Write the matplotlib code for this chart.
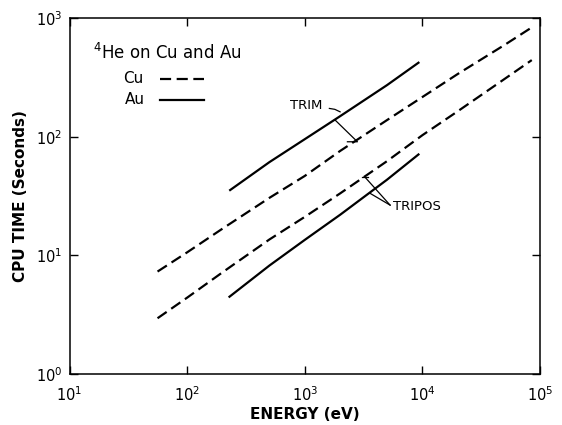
import matplotlib
matplotlib.use("Agg")
import matplotlib.pyplot as plt
from matplotlib.ticker import FixedFormatter, NullLocator

# values (energy in eV, CPU time in seconds)
cu_trim_e = [56, 100, 200, 500, 1000, 2000, 5000, 10000, 20000, 50000, 82400]
cu_trim_t = [7.3, 10.6, 16.8, 30.5, 46.7, 75.9, 138, 216, 338, 594, 817]

cu_tripos_e = [56, 100, 200, 500, 1000, 2000, 5000, 10000, 20000, 50000, 85000]
cu_tripos_t = [2.95, 4.4, 7.2, 13.6, 21.1, 33.3, 62.2, 103, 164, 307, 442]

au_trim_e = [232, 500, 1000, 2000, 5000, 9250]
au_trim_t = [35.5, 61, 95.3, 149, 272, 420]

au_tripos_e = [229, 500, 1000, 2000, 5000, 9250]
au_tripos_t = [4.48, 8.2, 13.5, 22.0, 43.4, 70.8]

x_ticks = [1e1, 1e2, 1e3, 1e4, 1e5]
x_ticklabels = [r"$10^{1}$", r"$10^{2}$", r"$10^{3}$", r"$10^{4}$", r"$10^{5}$"]
y_ticks = [1e0, 1e1, 1e2, 1e3]
y_ticklabels = [r"$10^{0}$", r"$10^{1}$", r"$10^{2}$", r"$10^{3}$"]

# label positions / leader lines (data coords)
trim_label = (750, 184.6)
trim_leader = [(1618, 173), (1800, 170), (1995, 162)]
trim_bracket = [(1811, 138), (2800, 90.6), (2303, 90.6)]
tripos_label = (5662, 25.7)
tripos_leader1 = [(5310, 26.5), (3260, 45.4)]
tripos_tick = [(3055, 45.4), (3475, 45.4)]
tripos_leader2 = [(5310, 26.5), (3590, 33.3)]

DASH = (5, 2.5)
LW = 1.6

fig = plt.figure(figsize=(5.62, 4.25), dpi=100)
ax = fig.add_axes([0.1237, 0.12, 0.8373, 0.8376])

ax.plot(cu_trim_e, cu_trim_t, color="black", lw=LW, dashes=DASH)
ax.plot(cu_tripos_e, cu_tripos_t, color="black", lw=LW, dashes=DASH)
ax.plot(au_trim_e, au_trim_t, color="black", lw=LW)
ax.plot(au_tripos_e, au_tripos_t, color="black", lw=LW)

ax.set_xscale("log")
ax.set_yscale("log")
ax.set_xlim(1e1, 1e5)
ax.set_ylim(1e0, 1e3)

# annotations
ax.text(trim_label[0], trim_label[1], "TRIM", fontsize=9.5, ha="left", va="center")
for pts in [trim_leader, trim_bracket, tripos_leader1, tripos_tick, tripos_leader2]:
    ax.plot([p[0] for p in pts], [p[1] for p in pts], color="black", lw=0.9)
ax.text(tripos_label[0], tripos_label[1], "TRIPOS", fontsize=9.5, ha="left", va="center")

# hand-made key
ax.text(0.05, 0.901, r"$^{4}$He on Cu and Au", transform=ax.transAxes,
        fontsize=12, ha="left", va="center")
ax.text(0.114, 0.829, "Cu", transform=ax.transAxes, fontsize=11, ha="left", va="center")
ax.text(0.118, 0.770, "Au", transform=ax.transAxes, fontsize=11, ha="left", va="center")
ax.plot([0.192, 0.286], [0.829, 0.829], transform=ax.transAxes, color="black",
        lw=LW, dashes=DASH)
ax.plot([0.192, 0.286], [0.770, 0.770], transform=ax.transAxes, color="black", lw=LW)

ax.set_xticks(x_ticks)
ax.xaxis.set_major_formatter(FixedFormatter(x_ticklabels))
ax.set_yticks(y_ticks)
ax.yaxis.set_major_formatter(FixedFormatter(y_ticklabels))
ax.xaxis.set_minor_locator(NullLocator())
ax.yaxis.set_minor_locator(NullLocator())
ax.tick_params(which="major", direction="in", length=6, width=1,
               top=True, right=True, labelsize=10.5)
ax.tick_params(axis="x", pad=8)
ax.tick_params(axis="y", pad=5)
for s in ax.spines.values():
    s.set_linewidth(1.1)

ax.set_xlabel("ENERGY (eV)", fontsize=11, fontweight="bold", labelpad=2)
ax.set_ylabel("CPU TIME (Seconds)", fontsize=11, fontweight="bold", labelpad=6)

fig.savefig("out.png", dpi=100)
